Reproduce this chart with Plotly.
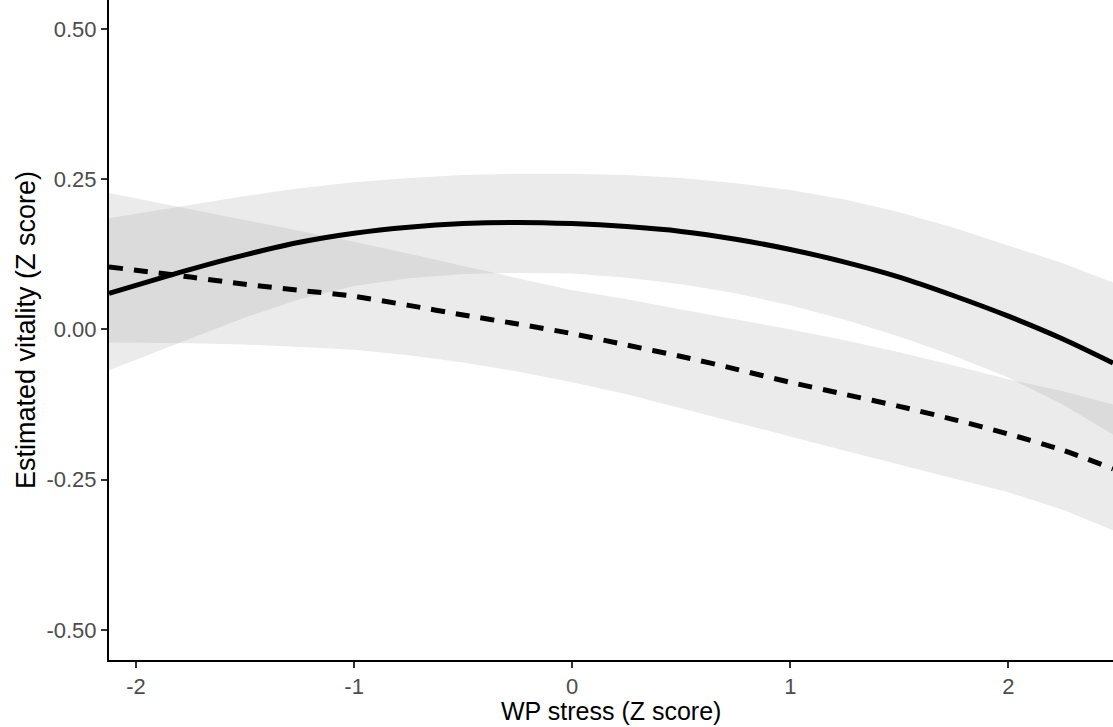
import plotly.graph_objects as go

# x positions (WP stress, Z score) at which values were read
x_vals = [-2.124, -1.75, -1.5, -1.25, -1.0, -0.75, -0.5, -0.25, 0.0, 0.25, 0.5,
          0.75, 1.0, 1.25, 1.5, 1.75, 2.0, 2.25, 2.48]

# Solid line (quadratic model) and its confidence band
solid_fit = [0.060, 0.100, 0.124, 0.145, 0.160, 0.170, 0.176, 0.178, 0.176, 0.171,
             0.163, 0.150, 0.133, 0.112, 0.087, 0.056, 0.022, -0.016, -0.056]
solid_upper = [0.185, 0.207, 0.222, 0.235, 0.245, 0.252, 0.257, 0.259, 0.259, 0.257,
               0.252, 0.243, 0.232, 0.216, 0.195, 0.169, 0.139, 0.110, 0.078]
solid_lower = [-0.068, -0.015, 0.020, 0.050, 0.072, 0.085, 0.092, 0.094, 0.093, 0.086,
               0.075, 0.060, 0.040, 0.016, -0.012, -0.044, -0.080, -0.125, -0.175]

# Dashed line and its confidence band
dashed_fit = [0.104, 0.087, 0.075, 0.065, 0.055, 0.040, 0.024, 0.009, -0.007, -0.026,
              -0.045, -0.066, -0.088, -0.108, -0.128, -0.150, -0.174, -0.201, -0.232]
dashed_upper = [0.227, 0.200, 0.183, 0.165, 0.146, 0.126, 0.105, 0.085, 0.065, 0.050,
                0.033, 0.017, 0.000, -0.018, -0.038, -0.060, -0.083, -0.103, -0.125]
dashed_lower = [-0.022, -0.023, -0.025, -0.029, -0.034, -0.043, -0.055, -0.070, -0.088,
                -0.108, -0.131, -0.155, -0.178, -0.202, -0.226, -0.248, -0.271, -0.300,
                -0.334]

x_tickvals = [-2, -1, 0, 1, 2]
x_ticktext = ["-2", "-1", "0", "1", "2"]
y_tickvals = [-0.5, -0.25, 0.0, 0.25, 0.5]
y_ticktext = ["-0.50", "-0.25", "0.00", "0.25", "0.50"]

band_fill = "rgba(153,153,153,0.2)"
FONT = "Liberation Sans, Arial, sans-serif"

fig = go.Figure()

for up, lo in [(solid_upper, solid_lower), (dashed_upper, dashed_lower)]:
    fig.add_trace(go.Scatter(
        x=x_vals + x_vals[::-1], y=up + lo[::-1],
        fill="toself", fillcolor=band_fill, line=dict(width=0),
        mode="lines", hoverinfo="skip", showlegend=False))

fig.add_trace(go.Scatter(x=x_vals, y=solid_fit, mode="lines",
                         line=dict(color="black", width=5, shape="spline", smoothing=0.8),
                         showlegend=False))
fig.add_trace(go.Scatter(x=x_vals, y=dashed_fit, mode="lines",
                         line=dict(color="black", width=5, dash="14px,11px",
                                   shape="spline", smoothing=0.8),
                         showlegend=False))

fig.update_layout(
    width=1113, height=727,
    margin=dict(l=109, r=0, t=0, b=67),
    paper_bgcolor="white", plot_bgcolor="white",
    font=dict(family=FONT, color="black"),
    showlegend=False,
)

fig.update_xaxes(
    range=[-2.124, 2.48], tickvals=x_tickvals, ticktext=x_ticktext,
    showgrid=False, zeroline=False, showline=True, linecolor="black", linewidth=2,
    ticks="outside", ticklen=6, tickwidth=2, tickcolor="#333333",
    tickfont=dict(size=22, color="#4D4D4D", family=FONT),
)
fig.update_yaxes(
    range=[-0.55, 0.548], tickvals=y_tickvals, ticktext=y_ticktext,
    showgrid=False, zeroline=False, showline=True, linecolor="black", linewidth=2,
    ticks="outside", ticklen=6, tickwidth=2, tickcolor="#333333",
    tickfont=dict(size=22, color="#4D4D4D", family=FONT),
)

fig.add_annotation(text="WP stress (Z score)", xref="paper", yref="paper",
                   x=0.5, y=0, yshift=-66, xanchor="center", yanchor="bottom",
                   borderpad=0, showarrow=False,
                   font=dict(size=25, color="black", family=FONT))
fig.add_annotation(text="Estimated vitality (Z score)", xref="paper", yref="paper",
                   x=0, y=0.5, xshift=-83, xanchor="center", yanchor="middle",
                   textangle=-90, showarrow=False,
                   font=dict(size=27, color="black", family=FONT))

fig.write_html("out.html")
